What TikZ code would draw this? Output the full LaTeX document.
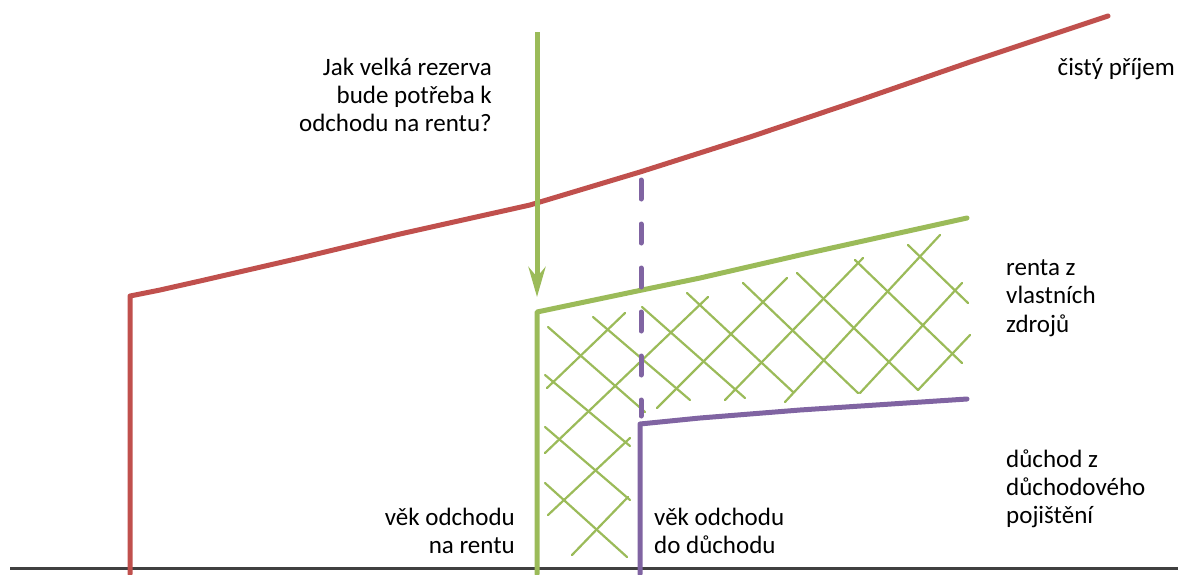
\documentclass[tikz,border=0pt]{standalone}
\usepackage{fontspec}
\setmainfont{Carlito}
\usetikzlibrary{arrows.meta}
\definecolor{cred}{HTML}{C0504D}
\definecolor{cgreen}{HTML}{9BBB59}
\definecolor{cpurple}{HTML}{8064A2}
\definecolor{cbase}{HTML}{404040}
\tikzset{
  curve/.style={line width=5pt, line cap=round, line join=round},
  hatch/.style={cgreen, line width=2.2pt, line cap=round},
  lbl/.style={inner sep=0pt, font=\fontsize{25}{28}\selectfont, text=black},
  lblr/.style={lbl, anchor=base east},
  lbll/.style={lbl, anchor=base west}
}
\begin{document}
\begin{tikzpicture}[x=1pt,y=-1pt]
\useasboundingbox (0,0) rectangle (1178,574);
% coordinates
\coordinate (bl) at (10,568);
\coordinate (br) at (1178,568);
\coordinate (r0) at (130,574);
\coordinate (r1) at (130,296);
\coordinate (rEnd) at (1108,16);
\coordinate (a0) at (537,32);
\coordinate (a1) at (537,297);
\coordinate (g0) at (537,574);
\coordinate (g1) at (537,312);
\coordinate (gEnd) at (967,218);
\coordinate (p0) at (640,574);
\coordinate (p1) at (640,424);
\coordinate (pEnd) at (967,399);
\coordinate (pd0) at (641,180);
\coordinate (pd1) at (641,416);
% hatching
\foreach \xa/\ya/\xb/\yb in {
  545/483/627/557, 545/427/630/500, 545/375/630/446, 548/327/645/412,
  593/317/690/400, 642/307/745/398, 687/293/793/392, 743/283/858/393,
  797/273/918/390, 855/260/962/363, 908/245/968/303,
  547/388/625/313, 545/453/708/297, 548/515/630/438, 657/408/787/278,
  572/555/628/497, 725/400/863/258, 785/402/940/235, 860/393/962/283,
  918/390/970/335}
  \draw[hatch] (\xa,\ya) -- (\xb,\yb);
% baseline
\draw[cbase, line width=3pt] (bl) -- (br);
% red net income
\draw[curve, cred] (r0) -- (r1) -- (160,290) -- (200,281) -- (300,258) -- (400,234)
  -- (530,205) -- (640,172) -- (750,137) -- (860,100) -- (970,62) -- (rEnd);
% green
\draw[curve, cgreen] (g0) -- (g1) -- (642,290) -- (700,278) -- (800,255) -- (gEnd);
\draw[cgreen, line width=5pt, -{Stealth[length=30pt,width=17pt,inset=10pt]}] (a0) -- (a1);
% purple
\draw[curve, cpurple] (p0) -- (p1) -- (700,418) -- (800,410) -- (pEnd);
\draw[cpurple, line width=5pt, line cap=round, dash pattern=on 19pt off 25pt] (pd0) -- (pd1);
% labels
\node[lblr] (q1) at (492,75) {Jak velká rezerva};
\node[lblr] (q2) at (492,103) {bude potřeba k};
\node[lblr] (q3) at (492,131) {odchodu na rentu?};
\node[lblr] (ci) at (1175,75) {čistý příjem};
\node[lbll] (rz1) at (1006,275) {renta z};
\node[lbll] (rz2) at (1006,303) {vlastních};
\node[lbll] (rz3) at (1006,332) {zdrojů};
\node[lbll] (dz1) at (1006,467) {důchod z};
\node[lbll] (dz2) at (1006,495) {důchodového};
\node[lbll] (dz3) at (1006,523) {pojištění};
\node[lblr] (v1) at (515,525) {věk odchodu};
\node[lblr] (v2) at (515,553) {na rentu};
\node[lbll] (w1) at (654,525) {věk odchodu};
\node[lbll] (w2) at (654,553) {do důchodu};
\end{tikzpicture}
\end{document}
